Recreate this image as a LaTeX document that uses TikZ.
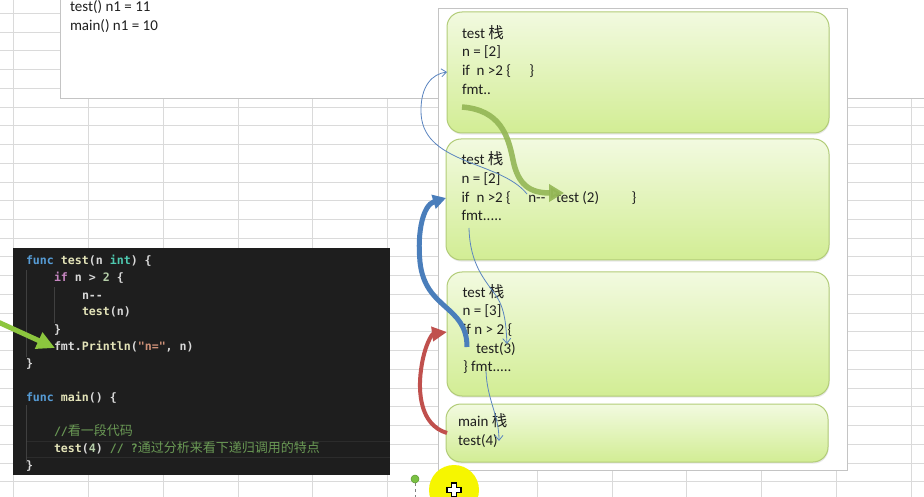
\documentclass[tikz,border=0pt]{standalone}
\usepackage{fontspec}
\setmainfont{Carlito}
\setmonofont{DejaVu Sans Mono}
\newfontfamily\cjk{Noto Sans CJK SC}
\usetikzlibrary{arrows.meta,shadows}
\definecolor{gridc}{HTML}{DADADA}
\definecolor{edgec}{HTML}{C4C4C4}
\definecolor{codebg}{HTML}{1E1E1E}
\definecolor{guide}{HTML}{404040}
\definecolor{cplain}{HTML}{D8D8D8}
\definecolor{ckw}{HTML}{569CD6}
\definecolor{cfn}{HTML}{E3E3B8}
\definecolor{cty}{HTML}{4EC9B0}
\definecolor{cctl}{HTML}{C586C0}
\definecolor{cnum}{HTML}{B5CEA8}
\definecolor{cstr}{HTML}{CE9178}
\definecolor{ccom}{HTML}{6A9955}
\definecolor{boxedge}{RGB}{178,204,120}
\definecolor{boxtop}{RGB}{242,250,224}
\definecolor{boxbot}{RGB}{210,237,148}
\definecolor{thinblue}{HTML}{5B85C0}
\definecolor{thickblue}{HTML}{4A7EBB}
\definecolor{thickred}{HTML}{C0504D}
\definecolor{olive}{HTML}{93B655}
\definecolor{lime}{HTML}{8CC63E}
\newcommand\zh{{\cjk\fontsize{15.5}{18}\selectfont 栈}}
\newcommand\cjkc[1]{{\cjk\mdseries\fontsize{13}{14}\selectfont #1}}
\begin{document}
\begin{tikzpicture}[x=1pt,y=-1pt,
  every node/.style={inner sep=0pt,outer sep=0pt},
  gridl/.style={draw=gridc,line width=0.8pt},
  stackbox/.style={draw=boxedge,line width=1pt,rounded corners=15pt,
    top color=boxtop,bottom color=boxbot,anchor=north west,
    drop shadow={opacity=0.18,shadow xshift=0.6pt,shadow yshift=-1.6pt}},
  txt/.style={anchor=base west,font=\fontsize{15}{18}\selectfont,text=black!88},
  code/.style={anchor=base west,font=\fontsize{11.6}{14}\selectfont\ttfamily\bfseries,text=cplain},
  thinarr/.style={draw=thinblue,line width=0.8pt,-{Straight Barb[length=5pt,width=8pt]}},
  guideline/.style={draw=guide,line width=0.6pt}]
\useasboundingbox (0,0) rectangle (924,497);
\fill[white] (0,0) rectangle (924,497);
% spreadsheet grid
\foreach \i in {0,...,12} \draw[gridl] ({13.5+74.8*\i},0) -- ({13.5+74.8*\i},497);
\foreach \j in {0,...,25} \draw[gridl] (0,{13.4+18.73*\j}) -- (924,{13.4+18.73*\j});
% top white text box
\fill[white] (60,-2) rectangle (926,98);
\draw[edgec,line width=0.8pt] (60,-2) -- (60,98) -- (926,98);
\node[txt] (n1a) at (70,11.7) {test() n1 = 11};
\node[txt] (n1b) at (70,30.7) {main() n1 = 10};
% code panel
\fill[codebg] (13,248) rectangle (390,475);
\draw[guideline] (26.5,270) -- (26.5,357);
\draw[guideline] (54.5,287) -- (54.5,323);
\draw[guideline] (26.5,405) -- (26.5,463);
\draw[draw=black!72!white,line width=0.5pt,opacity=0.35] (26,441) -- (390,441) (26,457) -- (390,457);
\node[code] (c1) at (26,265) {{\color{ckw}func} {\color{cfn}test}(n {\color{cty}int}) \{};
\node[code] (c2) at (54,282) {{\color{cctl}if} n > {\color{cnum}2} \{};
\node[code] (c3) at (82,299) {n-\kern0pt-};
\node[code] (c4) at (82,316) {{\color{cfn}test}(n)};
\node[code] (c5) at (54,333) {\}};
\node[code] (c6) at (54,350) {fmt.{\color{cfn}Println}({\color{cstr}"n="}, n)};
\node[code] (c7) at (26,367) {\}};
\node[code] (c8) at (26,401) {{\color{ckw}func} {\color{cfn}main}() \{};
\node[code] (c9) at (54,435) {{\color{ccom}//\cjkc{看一段代码}}};
\node[code] (c10) at (54,452) {{\color{cfn}test}({\color{cnum}4}) {\color{ccom}// ?\cjkc{通过分析来看下递归调用的特点}}};
\node[code] (c11) at (26,469) {\}};
% stack frame
\draw[edgec,fill=white,line width=0.8pt] (438,8) rectangle (847,470);
\node[stackbox,minimum width=382pt,minimum height=121pt] (s1) at (447,12) {};
\node[stackbox,minimum width=383pt,minimum height=121pt] (s2) at (446,139) {};
\node[stackbox,minimum width=382pt,minimum height=124pt] (s3) at (447,272) {};
\node[stackbox,minimum width=382pt,minimum height=58pt] (s4) at (446,404) {};
% box 1
\node[txt] (a1) at (462,38.3) {test \zh};
\node[txt] (a2) at (462,56.7) {n = [2]};
\node[txt] (a3) at (462,76) {if};
\node[txt] (a3b) at (476.7,76) {n >2 \{};
\node[txt] (a3c) at (529.3,76) {\}};
\node[txt] (a4) at (462,94.3) {fmt..};
% box 2
\node[txt] (b1) at (461.5,165) {test \zh};
\node[txt] (b2) at (461.5,184) {n = [2]};
\node[txt] (b3) at (461.5,202.3) {if};
\node[txt] (b3b) at (476.5,202.3) {n >2 \{};
\node[txt] (b3c) at (528.3,202.3) {n-\kern0pt-};
\node[txt] (b3d) at (556,202.3) {test (2)};
\node[txt] (b3e) at (631.7,202.3) {\}};
\node[txt] (b4) at (461.5,220.7) {fmt.....};
% box 3
\node[txt] (d1) at (462.5,297.3) {test \zh};
\node[txt] (d2) at (462.5,316) {n = [3]};
\node[txt] (d3) at (463,334.3) {if n > 2 \{};
\node[txt] (d4) at (476,353.3) {test(3)};
\node[txt] (d5) at (463,371.7) {\} fmt.....};
% box 4
\node[txt] (m1) at (458,426.7) {main \zh};
\node[txt] (m2) at (458,445.7) {test(4)};
% connector end points
\coordinate (p1s) at (527,194);
\coordinate (p1e) at (447,72);
\coordinate (p2s) at (469,228);
\coordinate (p2e) at (507,344);
\coordinate (p3s) at (486,371);
\coordinate (p3e) at (499,441);
\coordinate (g1s) at (462,107);
\coordinate (g1e) at (564,193);
\coordinate (u1s) at (467,347);
\coordinate (u1e) at (446,198);
\coordinate (r1s) at (447,433);
\coordinate (r1e) at (447,332);
\coordinate (l1s) at (-2,322);
\coordinate (l1e) at (55,348);
% arrows
\draw[draw=olive,opacity=0.9,line width=5.5pt,-{Triangle[length=15pt,width=17pt]}]
  (g1s) .. controls (500,110) and (508,135) .. (513,160)
  .. controls (518,185) and (530,193) .. (g1e);
\draw[thinarr] (p1s) .. controls (500,160) and (420,165) .. (421,110)
  .. controls (421,86) and (432,74) .. (p1e);
\draw[thinarr] (p2s) .. controls (470,265) and (485,280) .. (497,297)
  .. controls (505,310) and (506,325) .. (p2e);
\draw[thinarr] (p3s) .. controls (487,400) and (499,415) .. (p3e);
\draw[draw=thickblue,line width=5pt,-{Triangle[length=13pt,width=14pt]}]
  (u1s) .. controls (467,305) and (425,310) .. (420,262)
  .. controls (417,232) and (423,205) .. (u1e);
\draw[draw=thickred,line width=4pt,-{Triangle[length=15pt,width=14pt]}]
  (r1s) .. controls (420,425) and (418,392) .. (421,370)
  .. controls (424,346) and (432,334) .. (r1e);
\draw[draw=lime,line width=5pt,-{Triangle[length=18pt,width=17pt]}] (l1s) -- (l1e);
% bottom marks
\draw[gray,line width=0.8pt,dashed] (415,483) -- (415,497);
\node[circle,fill={rgb,255:red,122;green,193;blue,67},draw={rgb,255:red,90;green,150;blue,48},line width=0.5pt,minimum size=8pt] (dot) at (415,479) {};
\node[circle,fill={rgb,255:red,246;green,246;blue,0},minimum size=50pt] (hl) at (454,490) {};
\draw[fill=white,draw=black,line width=1.2pt]
  (451.5,483) -- (456.5,483) -- (456.5,487.5) -- (461,487.5) -- (461,492.5)
  -- (456.5,492.5) -- (456.5,497) -- (451.5,497) -- (451.5,492.5) -- (447,492.5)
  -- (447,487.5) -- (451.5,487.5) -- cycle;
\end{tikzpicture}
\end{document}
